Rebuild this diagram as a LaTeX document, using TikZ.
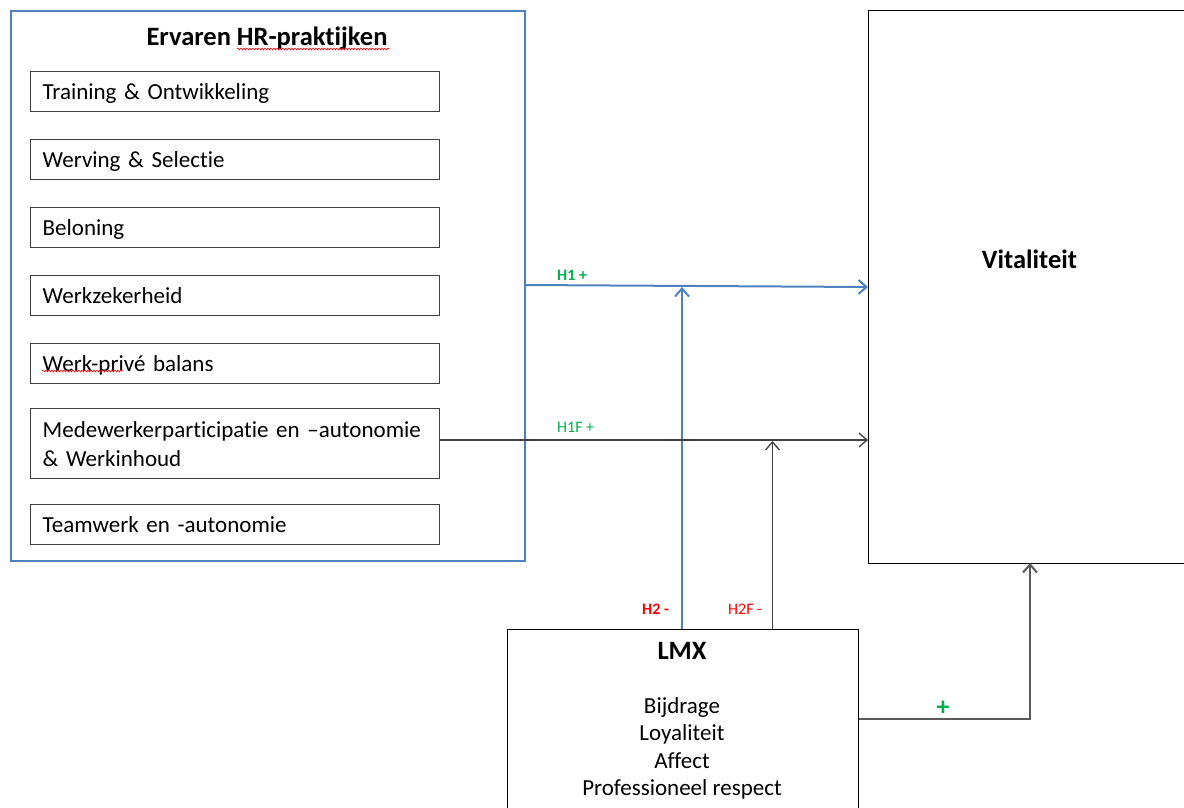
\documentclass[tikz,border=0pt]{standalone}
\usepackage{fontspec}
\setmainfont{Carlito}[Ligatures=NoCommon]
\usetikzlibrary{arrows.meta,decorations.pathmorphing}
\definecolor{hrblue}{RGB}{79,129,189}
\definecolor{itemgray}{RGB}{64,64,64}
\definecolor{hgreen}{RGB}{0,176,80}
\definecolor{hred}{RGB}{255,0,0}
\definecolor{conngray}{RGB}{90,90,90}
\begin{document}
\begin{tikzpicture}[x=1pt,y=-1pt,
  hrframe/.style={draw=hrblue, line width=2pt, inner sep=0pt, anchor=north west},
  item/.style={draw=itemgray, line width=1.4pt, anchor=north west, text width=385pt,
    inner xsep=12pt, inner ysep=0pt, minimum height=40pt, align=left,
    font=\fontsize{23}{29}\selectfont},
  oneline/.style={item, text height=21pt, text depth=5pt},
  head/.style={font=\bfseries\fontsize{26.5}{30}\selectfont, anchor=base, inner sep=0pt},
  body/.style={font=\fontsize{23}{28}\selectfont, anchor=base, inner sep=0pt},
  plainbox/.style={draw=black, line width=1.2pt, inner sep=0pt, anchor=north west},
  tip/.style={-{Straight Barb[length=8pt,width=14pt]}},
  blueline/.style={draw=hrblue, line width=2pt, tip},
  blackline/.style={draw=itemgray, line width=1.3pt, tip},
  grayline/.style={draw=conngray, line width=2pt, tip},
  lab/.style={font=\fontsize{16}{18}\selectfont, anchor=base west, inner sep=0pt},
  squig/.style={draw=red, line width=0.6pt, decorate,
    decoration={snake, segment length=3pt, amplitude=0.9pt}}
]
\useasboundingbox (0,0) rectangle (1184,807);
\clip (0,0) rectangle (1184,807);

% HR practices frame
\node[hrframe, minimum width=514pt, minimum height=550pt] (hr) at (10,10) {};
\node[head] (title) at (267,45.5) {Ervaren HR-praktijken};
\draw[squig] (237,49) -- (389,49);

\node[oneline] (t1) at (30,71) {Training \& Ontwikkeling};
\node[oneline] (t2) at (30,139) {Werving \& Selectie};
\node[oneline] (t3) at (30,207) {Beloning};
\node[oneline] (t4) at (30,275) {Werkzekerheid};
\node[oneline] (t5) at (30,343) {Werk-privé balans};
\draw[squig] (42,371) -- (123,371);
\node[item, minimum height=70pt] (t6) at (30,408) {Medewerkerparticipatie en –autonomie\\\& Werkinhoud};
\node[oneline] (t7) at (30,504) {Teamwerk en -autonomie};

% Vitaliteit
\node[plainbox, line width=1pt, minimum width=330pt, minimum height=553pt] (vit) at (868,10) {};
\node[head] (vitt) at (1029.5,268.5) {Vitaliteit};

% LMX
\node[plainbox, minimum width=351pt, minimum height=200pt] (lmx) at (507,629) {};
\node[head] (lmxt) at (682,659) {LMX};
\node[body] (l1) at (682,713) {Bijdrage};
\node[body] (l2) at (682,740.5) {Loyaliteit};
\node[body] (l3) at (682,768) {Affect};
\node[body] (l4) at (682,795.5) {Professioneel respect};

% connectors
\coordinate (j1) at (682,287);
\coordinate (j2) at (772.5,441);
\coordinate (j3) at (1030,563);
\draw[blueline] (hr.east |- 0,285) -- (vit.west |- 0,287);
\draw[blueline] (lmx.north -| j1) -- (j1);
\draw[blackline] (t6.east |- 0,440) -- (vit.west |- 0,440);
\draw[blackline] (lmx.north -| j2) -- (j2);
\draw[grayline] (lmx.east |- 0,719) -| (j3);

% labels
\node[lab, text=hgreen, font=\bfseries\fontsize{16}{18}\selectfont] (h1) at (557,280) {H1 +};
\node[lab, text=hgreen] (h1f) at (557,432.5) {H1F +};
\node[lab, text=hred, font=\bfseries\fontsize{16}{18}\selectfont] (h2) at (642,614) {H2 -};
\node[lab, text=hred] (h2f) at (728,614) {H2F -};
\node[font=\bfseries\fontsize{26}{28}\selectfont, text=hgreen, anchor=base, inner sep=0pt] (plus) at (943,715) {+};
\end{tikzpicture}
\end{document}
